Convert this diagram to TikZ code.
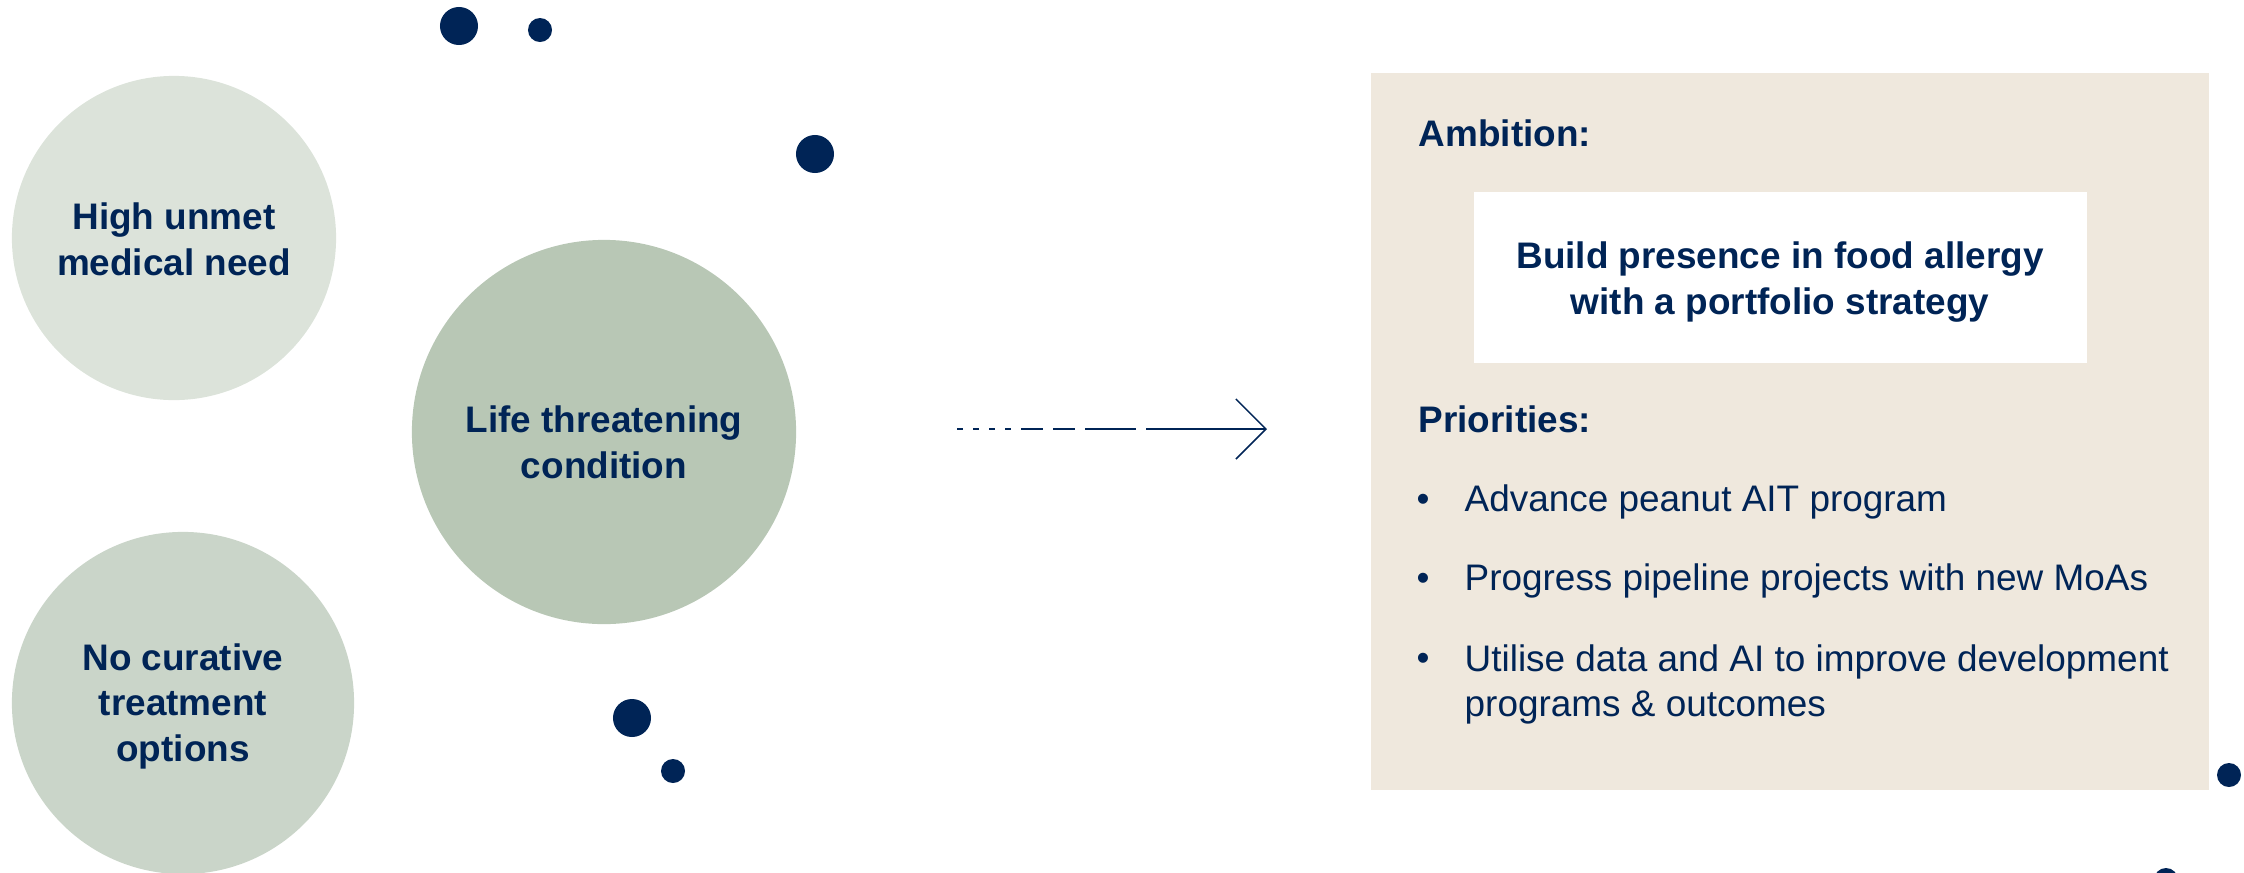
\documentclass[tikz,border=0pt]{standalone}
\usepackage{fontspec}
\setmainfont{Liberation Sans}
\usetikzlibrary{arrows.meta}
\definecolor{navy}{RGB}{0,36,86}
\definecolor{sagepale}{RGB}{220,227,218}
\definecolor{sagemid}{RGB}{202,213,201}
\definecolor{sagedark}{RGB}{184,199,181}
\definecolor{sand}{RGB}{239,232,221}
\tikzset{
  bubble/.style={circle,inner sep=0pt},
  dot/.style={fill=navy},
  heading/.style={anchor=base west,inner sep=0pt,text=navy,font=\bfseries\fontsize{10.5}{12.8}\selectfont},
  bubbletext/.style={heading,anchor=base,align=center},
  item/.style={anchor=base west,inner sep=0pt,text=navy,align=left,font=\fontsize{10.5}{12.8}\selectfont},
}
\begin{document}
\begin{tikzpicture}[x=.01cm,y=-.01cm]
		\useasboundingbox (0,0) rectangle (2244,872);
		\node[bubble,fill=sagepale,minimum size=3.24cm] (unmet) at (174,238) {};
		\node[bubble,fill=sagedark,minimum size=3.84cm] (threat) at (604,432) {};
		\node[bubble,fill=sagemid,minimum size=3.42cm] (cure) at (183,703) {};
		\node[bubbletext] (unmettext) at (174,275) {High unmet\\medical need};
		\node[bubbletext] (threattext) at (604,478) {Life threatening\\condition};
		\node[bubbletext] (curetext) at (183,761) {No curative\\treatment\\options};
		\fill[dot] (459,26) circle (.19cm);
		\fill[dot] (540,30) circle (.12cm);
		\fill[dot] (815,154) circle (.19cm);
		\fill[dot] (632,718) circle (.19cm);
		\fill[dot] (673,771) circle (.12cm);
		\fill[dot] (2229,775) circle (.12cm);
		\fill[dot] (2166,880) circle (.12cm);
		%%%%%%%%%%%%%%%%%%%%%%%%%%%%%%%%%
		\coordinate (from) at (957,429);
		\coordinate (to) at (1267,429);
		\draw[navy,line width=.45pt,dash pattern=on .06cm off .1cm on .06cm off .1cm on .06cm off .1cm on .06cm off .1cm on .22cm off .1cm on .22cm off .1cm on .51cm off .1cm on 1.21cm off 0cm,-{Straight Barb[length=.3cm,width=.6cm]}] (from) -- (to);
		%%%%%%%%%%%%%%%%%%%%%%%%%%%%%%%%%
		\node[fill=sand,anchor=north west,inner sep=0pt,minimum width=8.38cm,minimum height=7.17cm] (panel) at (1370,72) {};
		\node[fill=white,anchor=north west,inner sep=0pt,minimum width=6.13cm,minimum height=1.71cm] (goalbox) at (1473,191) {};
		\node[heading] (ambition) at (1418,146) {Ambition:};
		\node[bubbletext] (goal) at (1780,314) {Build presence in food allergy\\with a portfolio strategy};
		\node[heading] (priorities) at (1418,432) {Priorities:};
		\node[item] (b1) at (1416,511) {•};
		\node[item] (b2) at (1416,590) {•};
		\node[item] (b3) at (1416,670) {•};
		\node[item] (p1) at (1464,511) {Advance peanut AIT program};
		\node[item] (p2) at (1464,590) {Progress pipeline projects with new MoAs};
		\node[item] (p3) at (1464,716) {Utilise data and AI to improve development\\programs \& outcomes};
	\end{tikzpicture}
\end{document}
